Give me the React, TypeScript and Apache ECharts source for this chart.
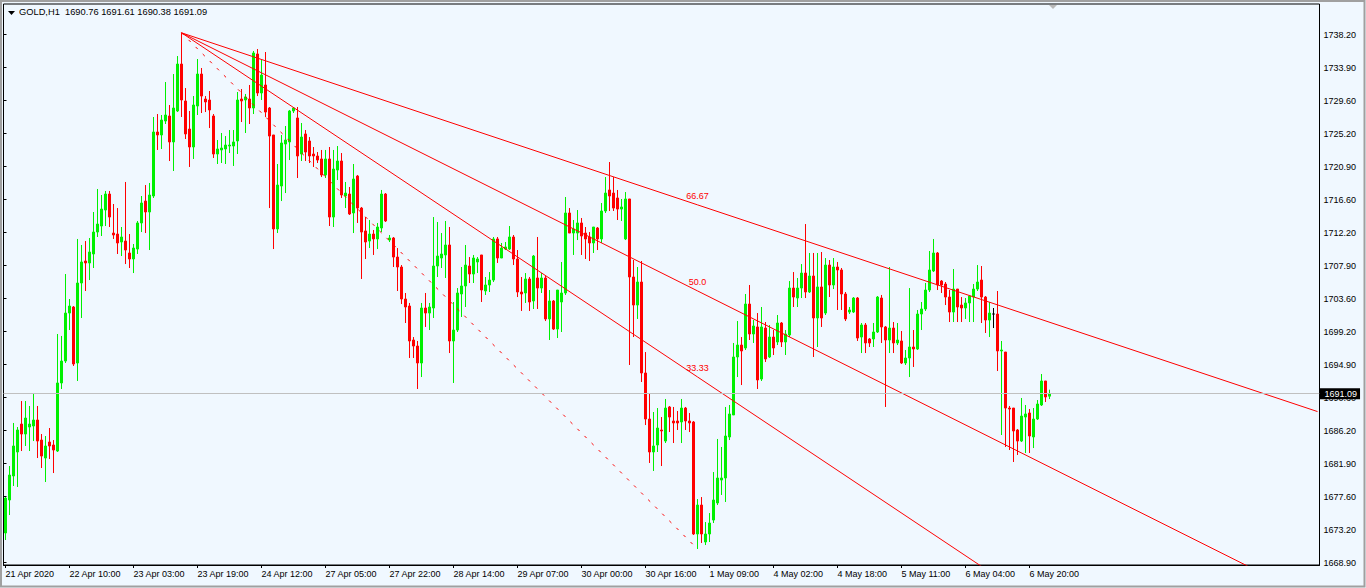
import React, { useEffect, useRef } from "react";
import * as echarts from "echarts";

const SYMBOL = "GOLD";
const TIMEFRAME = "H1";

const xTickLabels = [
  "21 Apr 2020", "22 Apr 10:00", "23 Apr 03:00", "23 Apr 19:00", "24 Apr 12:00",
  "27 Apr 05:00", "27 Apr 22:00", "28 Apr 14:00", "29 Apr 07:00", "30 Apr 00:00",
  "30 Apr 16:00", "1 May 09:00", "4 May 02:00", "4 May 18:00", "5 May 11:00",
  "6 May 04:00", "6 May 20:00",
];

const yTickLabels = [
  "1668.90", "1673.20", "1677.60", "1681.90", "1686.20", "1690.60", "1694.90",
  "1699.20", "1703.60", "1707.90", "1712.20", "1716.60", "1720.90", "1725.20",
  "1729.60", "1733.90", "1738.20",
];

const opens = [
  1672.80, 1677.13, 1680.28, 1683.43, 1687.10, 1685.79, 1686.71, 1686.84, 1687.63, 1685.00,
  1682.64, 1684.74, 1684.35, 1683.56, 1692.49, 1695.37, 1701.67, 1702.46, 1695.11, 1705.61,
  1708.50, 1708.24, 1709.42, 1712.30, 1713.09, 1715.19, 1717.29, 1712.17, 1712.04, 1710.99,
  1711.12, 1709.55, 1708.76, 1710.07, 1713.49, 1716.37, 1714.93, 1717.03, 1725.43, 1725.04,
  1726.87, 1727.53, 1724.12, 1728.19, 1734.35, 1729.50, 1725.82, 1723.46, 1728.84, 1733.04,
  1729.76, 1729.63, 1727.53, 1722.54, 1723.07, 1723.20, 1723.59, 1723.59, 1724.25, 1729.76,
  1729.63, 1729.76, 1728.58, 1735.67, 1730.55, 1731.60, 1728.58, 1725.04, 1712.70, 1718.34,
  1723.85, 1724.12, 1728.19, 1727.27, 1722.54, 1725.17, 1724.25, 1722.54, 1722.28, 1721.89,
  1719.79, 1721.89, 1714.27, 1720.44, 1721.62, 1717.03, 1717.29, 1714.80, 1719.65, 1715.45,
  1712.44, 1711.12, 1712.04, 1711.39, 1712.83, 1717.29, 1711.25, 1711.52, 1709.02, 1707.71,
  1703.51, 1702.59, 1698.13, 1697.34, 1695.11, 1702.33, 1701.67, 1702.33, 1707.84, 1708.89,
  1709.29, 1710.60, 1698.00, 1699.44, 1704.17, 1705.22, 1707.84, 1706.79, 1708.37, 1709.29,
  1704.56, 1705.35, 1706.00, 1711.39, 1708.89, 1710.07, 1710.07, 1711.65, 1708.76, 1704.43,
  1704.30, 1706.14, 1703.25, 1706.27, 1704.95, 1706.27, 1700.89, 1703.25, 1699.57, 1703.12,
  1704.30, 1714.80, 1712.17, 1712.17, 1713.49, 1712.17, 1711.65, 1710.86, 1712.83, 1711.39,
  1715.06, 1717.82, 1717.42, 1716.77, 1715.32, 1711.39, 1716.64, 1706.40, 1702.72, 1705.74,
  1693.80, 1687.76, 1683.43, 1684.35, 1686.32, 1684.87, 1689.34, 1687.50, 1687.50, 1687.37,
  1689.20, 1687.50, 1687.37, 1672.67, 1676.47, 1671.62, 1672.67, 1674.50, 1676.74, 1679.75,
  1680.02, 1685.40, 1688.29, 1695.90, 1697.47, 1697.08, 1702.85, 1698.92, 1699.84, 1693.01,
  1699.70, 1695.90, 1698.52, 1697.87, 1700.36, 1697.87, 1698.79, 1704.95, 1703.64, 1704.95,
  1706.92, 1704.43, 1706.53, 1701.02, 1705.09, 1701.67, 1707.97, 1705.35, 1707.71, 1707.32,
  1704.17, 1701.80, 1701.80, 1703.64, 1698.52, 1700.10, 1698.26, 1698.26, 1699.18, 1703.64,
  1699.84, 1698.13, 1699.70, 1697.74, 1698.00, 1695.11, 1695.77, 1697.21, 1696.95, 1701.54,
  1702.20, 1704.69, 1707.19, 1709.55, 1705.87, 1705.48, 1703.77, 1701.80, 1704.82, 1702.72,
  1702.33, 1702.99, 1703.77, 1704.82, 1706.00, 1703.77, 1700.75, 1701.54, 1701.54, 1696.69,
  1696.55, 1689.20, 1689.20, 1686.32, 1684.87, 1688.02, 1688.55, 1685.40, 1687.76, 1689.60,
  1692.75, 1690.76,
];

const closes = [
  1677.39, 1680.41, 1684.22, 1686.32, 1685.79, 1687.89, 1687.10, 1687.63, 1684.87, 1682.90,
  1684.22, 1684.22, 1683.69, 1692.49, 1695.37, 1701.67, 1702.59, 1694.98, 1705.61, 1708.37,
  1708.24, 1709.68, 1712.30, 1713.35, 1715.32, 1717.29, 1714.27, 1711.91, 1710.86, 1711.65,
  1709.94, 1708.76, 1710.20, 1713.49, 1716.11, 1714.93, 1717.16, 1725.43, 1725.04, 1727.00,
  1727.66, 1724.12, 1728.58, 1734.35, 1729.63, 1725.17, 1723.46, 1728.97, 1733.04, 1730.15,
  1729.37, 1728.32, 1722.54, 1723.20, 1723.33, 1723.72, 1723.72, 1724.12, 1729.63, 1729.50,
  1730.02, 1728.58, 1735.80, 1730.55, 1732.91, 1728.05, 1724.90, 1712.70, 1718.47, 1723.99,
  1724.38, 1728.19, 1728.58, 1722.28, 1724.77, 1722.80, 1722.28, 1722.28, 1721.75, 1719.79,
  1721.89, 1714.27, 1720.57, 1721.62, 1717.16, 1717.42, 1714.67, 1719.26, 1715.45, 1712.30,
  1710.99, 1712.04, 1711.39, 1712.96, 1717.29, 1713.75, 1711.52, 1709.02, 1707.71, 1703.51,
  1702.46, 1698.00, 1697.34, 1695.11, 1702.33, 1701.67, 1702.46, 1707.84, 1709.15, 1709.42,
  1710.60, 1698.00, 1699.44, 1704.30, 1705.22, 1707.97, 1706.79, 1708.89, 1708.76, 1704.69,
  1705.35, 1706.00, 1711.39, 1708.89, 1710.20, 1710.34, 1711.65, 1708.76, 1704.43, 1704.17,
  1706.14, 1703.12, 1709.15, 1704.95, 1706.27, 1700.89, 1703.25, 1699.57, 1704.69, 1704.30,
  1714.80, 1712.17, 1712.70, 1713.49, 1711.78, 1711.39, 1710.86, 1712.96, 1711.39, 1715.06,
  1717.42, 1717.03, 1715.45, 1715.32, 1715.59, 1716.64, 1706.40, 1702.72, 1705.74, 1693.80,
  1687.76, 1683.43, 1684.22, 1686.58, 1686.19, 1689.20, 1688.02, 1687.24, 1687.24, 1689.20,
  1687.50, 1687.24, 1672.67, 1676.47, 1672.67, 1672.67, 1674.11, 1677.13, 1680.02, 1680.02,
  1685.53, 1688.42, 1695.90, 1697.47, 1696.69, 1702.85, 1698.92, 1699.97, 1692.88, 1699.84,
  1695.64, 1698.52, 1697.08, 1700.36, 1697.87, 1698.92, 1704.95, 1703.77, 1704.95, 1706.92,
  1704.43, 1706.53, 1701.02, 1705.09, 1701.02, 1707.97, 1705.35, 1707.71, 1707.32, 1704.17,
  1700.89, 1702.07, 1703.64, 1698.39, 1700.10, 1697.74, 1697.74, 1699.18, 1703.77, 1699.84,
  1698.13, 1699.70, 1697.74, 1698.13, 1695.11, 1695.77, 1697.21, 1696.95, 1701.54, 1702.20,
  1704.69, 1707.32, 1709.55, 1705.35, 1705.35, 1703.77, 1701.80, 1704.82, 1702.46, 1702.33,
  1702.99, 1703.90, 1704.82, 1705.74, 1703.77, 1700.75, 1701.67, 1701.54, 1696.69, 1696.82,
  1689.20, 1689.07, 1686.19, 1684.87, 1688.15, 1688.42, 1685.53, 1687.76, 1689.73, 1692.75,
  1690.65, 1691.09,
];

const lows = [
  1671.88, 1675.16, 1678.97, 1678.84, 1683.56, 1684.22, 1683.56, 1684.87, 1682.64, 1681.33,
  1679.49, 1682.51, 1680.67, 1683.43, 1691.70, 1695.11, 1699.44, 1694.72, 1692.75, 1701.02,
  1704.56, 1706.00, 1707.58, 1711.65, 1711.78, 1713.09, 1712.96, 1711.39, 1709.42, 1709.15,
  1708.10, 1707.58, 1706.92, 1709.42, 1712.30, 1712.17, 1709.94, 1716.77, 1723.07, 1723.20,
  1726.48, 1721.62, 1720.31, 1728.05, 1727.40, 1724.51, 1720.84, 1721.89, 1727.66, 1727.92,
  1728.05, 1725.95, 1722.02, 1721.23, 1721.36, 1721.23, 1722.67, 1720.97, 1722.54, 1726.74,
  1725.30, 1726.48, 1727.79, 1730.15, 1729.63, 1727.40, 1715.45, 1710.07, 1712.17, 1716.37,
  1717.42, 1721.75, 1727.92, 1719.39, 1721.62, 1721.62, 1721.36, 1720.84, 1721.36, 1719.52,
  1719.39, 1713.09, 1712.96, 1719.13, 1716.77, 1715.45, 1714.54, 1712.17, 1713.49, 1706.14,
  1708.76, 1710.20, 1709.29, 1710.07, 1712.30, 1713.62, 1710.99, 1707.71, 1704.56, 1702.85,
  1700.36, 1695.77, 1695.77, 1691.70, 1693.27, 1699.84, 1699.44, 1701.02, 1706.40, 1707.58,
  1706.27, 1696.42, 1692.49, 1699.18, 1701.15, 1702.46, 1705.61, 1705.61, 1706.92, 1703.12,
  1704.04, 1704.43, 1705.74, 1708.24, 1708.89, 1709.94, 1709.94, 1707.97, 1703.77, 1701.94,
  1702.99, 1701.94, 1702.20, 1702.20, 1704.30, 1700.62, 1698.13, 1699.44, 1698.39, 1699.18,
  1704.04, 1712.17, 1709.29, 1711.25, 1709.29, 1708.76, 1708.50, 1709.55, 1709.94, 1710.86,
  1714.80, 1715.06, 1715.06, 1713.88, 1713.75, 1711.25, 1694.85, 1698.52, 1700.89, 1692.62,
  1686.97, 1681.99, 1680.94, 1683.43, 1681.59, 1684.61, 1686.05, 1684.61, 1686.32, 1684.61,
  1686.32, 1686.05, 1672.54, 1670.70, 1671.49, 1671.22, 1671.62, 1674.11, 1676.47, 1677.79,
  1676.87, 1685.00, 1688.29, 1693.27, 1692.22, 1696.82, 1698.13, 1697.74, 1691.70, 1692.75,
  1695.24, 1695.77, 1696.16, 1697.47, 1697.21, 1696.16, 1698.52, 1702.46, 1702.46, 1703.64,
  1703.64, 1704.30, 1695.90, 1697.21, 1699.84, 1701.41, 1703.77, 1704.82, 1702.07, 1702.07,
  1700.62, 1701.54, 1701.67, 1698.00, 1696.42, 1696.42, 1697.21, 1697.21, 1699.05, 1697.74,
  1689.34, 1696.42, 1696.42, 1697.47, 1694.98, 1694.85, 1693.27, 1694.59, 1696.82, 1699.44,
  1701.94, 1704.43, 1707.05, 1704.69, 1704.30, 1702.72, 1700.49, 1700.49, 1700.49, 1700.49,
  1700.89, 1700.49, 1700.49, 1704.56, 1700.36, 1699.05, 1698.52, 1699.70, 1694.06, 1685.66,
  1684.09, 1683.69, 1682.12, 1683.04, 1684.74, 1683.30, 1683.30, 1683.95, 1687.63, 1689.47,
  1689.99, 1690.38,
];

const highs = [
  1677.52, 1681.59, 1687.24, 1686.71, 1690.12, 1690.12, 1689.47, 1691.04, 1689.47, 1685.79,
  1685.53, 1686.58, 1685.00, 1698.92, 1698.66, 1706.79, 1703.51, 1702.59, 1711.39, 1710.60,
  1711.12, 1711.52, 1714.93, 1717.95, 1717.16, 1717.69, 1717.69, 1715.98, 1715.45, 1712.96,
  1718.87, 1712.04, 1710.73, 1713.75, 1717.03, 1718.47, 1718.74, 1727.40, 1727.79, 1727.66,
  1731.99, 1728.97, 1733.04, 1735.40, 1738.45, 1731.20, 1728.19, 1730.15, 1735.01, 1733.83,
  1730.15, 1730.81, 1727.79, 1724.38, 1725.30, 1724.90, 1725.69, 1725.69, 1730.68, 1731.07,
  1730.42, 1731.60, 1736.06, 1736.32, 1734.88, 1735.93, 1728.71, 1725.04, 1721.23, 1725.04,
  1726.22, 1728.32, 1728.71, 1728.71, 1726.61, 1725.69, 1724.77, 1723.46, 1722.80, 1723.07,
  1723.07, 1723.46, 1723.07, 1723.59, 1722.67, 1718.87, 1718.21, 1721.23, 1719.79, 1715.59,
  1714.27, 1713.88, 1712.57, 1713.49, 1717.82, 1717.42, 1711.91, 1711.65, 1710.20, 1707.97,
  1704.30, 1702.99, 1698.52, 1698.00, 1702.99, 1704.30, 1702.99, 1714.27, 1713.62, 1712.17,
  1713.75, 1712.96, 1703.12, 1704.95, 1707.71, 1710.60, 1709.02, 1709.29, 1709.02, 1709.29,
  1706.40, 1707.05, 1711.65, 1711.65, 1710.86, 1710.99, 1713.09, 1711.91, 1709.94, 1706.40,
  1706.92, 1706.40, 1709.29, 1711.65, 1706.92, 1706.53, 1704.69, 1703.38, 1704.69, 1708.37,
  1716.90, 1715.45, 1713.88, 1715.19, 1714.14, 1712.96, 1712.30, 1712.96, 1712.96, 1716.11,
  1719.52, 1721.49, 1719.52, 1717.82, 1716.64, 1717.55, 1716.64, 1708.63, 1707.71, 1708.50,
  1696.55, 1691.17, 1688.68, 1689.20, 1688.02, 1690.39, 1689.47, 1689.34, 1688.81, 1690.39,
  1689.34, 1688.55, 1687.50, 1677.26, 1677.52, 1674.24, 1675.42, 1680.80, 1685.14, 1684.09,
  1689.34, 1689.60, 1697.74, 1700.62, 1698.52, 1704.17, 1705.35, 1700.75, 1701.67, 1702.46,
  1700.49, 1700.10, 1699.44, 1701.41, 1700.49, 1699.44, 1705.87, 1707.05, 1706.27, 1708.10,
  1713.35, 1709.55, 1709.55, 1709.55, 1709.68, 1708.89, 1708.63, 1708.89, 1708.37, 1707.58,
  1704.43, 1702.46, 1703.77, 1703.77, 1700.36, 1700.36, 1698.39, 1700.36, 1703.90, 1704.04,
  1699.97, 1707.71, 1700.49, 1700.36, 1699.31, 1696.82, 1704.95, 1699.44, 1702.07, 1703.12,
  1705.61, 1709.81, 1711.39, 1709.68, 1706.00, 1705.74, 1704.69, 1707.45, 1704.82, 1703.77,
  1703.64, 1704.04, 1705.48, 1707.97, 1707.84, 1703.90, 1703.12, 1702.33, 1704.56, 1698.00,
  1696.55, 1689.47, 1689.20, 1686.45, 1690.52, 1689.60, 1689.07, 1689.20, 1690.25, 1693.67,
  1692.75, 1691.61,
];

// Fibonacci fan anchors (bar index, price) and its levels
const fanStartBar = 44;
const fanStartPrice = 1738.45;
const fanEndBar = 173;
const fanEndPrice = 1670.7;
const fanLevels = [66.67, 50.0, 33.33];
const fanLevelLabels = ["66.67", "50.0", "33.33"];

const SLOT_COUNT = 329; // visible bar slots incl. empty space on the right
const PRICE_MIN = 1668.6;
const PRICE_MAX = 1742.23;

const FONT = '"Liberation Sans", Arial, sans-serif';
const BULL = "#00F000";
const BEAR = "#FF0000";
const BG = "#F0F8FF";

export default function App() {
  const ref = useRef<HTMLDivElement>(null);

  useEffect(() => {
    document.body.style.margin = "0";
    const chart = echarts.init(ref.current as HTMLDivElement, undefined, { renderer: "svg" });

    const categories = Array.from({ length: SLOT_COUNT }, (_, i) => String(i));
    const candles = opens.map((o, i) => [o, closes[i], lows[i], highs[i]]);
    const last = opens.length - 1;
    const lastClose = closes[last];
    const header =
      `${SYMBOL},${TIMEFRAME}\u00a0\u00a0${opens[last].toFixed(2)} ${highs[last].toFixed(2)} ` +
      `${lows[last].toFixed(2)} ${lastClose.toFixed(2)}`;

    const lastSlot = SLOT_COUNT - 1;
    const drop = fanStartPrice - fanEndPrice;
    const span = fanEndBar - fanStartBar;
    const fanSeries = fanLevels.map((lvl, k) => {
      const atEnd = fanEndPrice + (lvl / 100) * drop;
      const slope = (atEnd - fanStartPrice) / span;
      const atRight = fanStartPrice + slope * (lastSlot - fanStartBar);
      return {
        type: "line",
        xAxisIndex: 0,
        yAxisIndex: 0,
        silent: true,
        clip: true,
        symbol: "circle",
        symbolSize: 0,
        showSymbol: true,
        showAllSymbol: true,
        lineStyle: { color: "#FF0000", width: 1 },
        itemStyle: { color: "#FF0000" },
        label: { show: false },
        emphasis: { disabled: true },
        data: [
          [fanStartBar, fanStartPrice],
          {
            value: [fanEndBar, atEnd],
            label: {
              show: true,
              position: "top",
              distance: 4,
              formatter: fanLevelLabels[k],
              color: "#FF0000",
              fontSize: 9,
              fontFamily: FONT,
            },
          },
          [lastSlot, atRight],
        ],
        z: 3,
      };
    });

    const tickShown = (idx: number) => idx % 16 === 0 && idx / 16 < xTickLabels.length;

    const option: any = {
      animation: false,
      backgroundColor: BG,
      textStyle: { fontFamily: FONT },
      title: {
        text: header,
        left: 19,
        top: 7,
        padding: 0,
        textStyle: { fontSize: 9.3, fontWeight: "normal", color: "#000", fontFamily: FONT },
      },
      grid: [
        {
          left: 3.5,
          top: 4,
          width: SLOT_COUNT * 4,
          height: 561,
          show: true,
          borderColor: "#000",
          borderWidth: 1,
          backgroundColor: BG,
        },
        { left: 3.5, top: 34.7, width: SLOT_COUNT * 4, height: 528, show: false },
      ],
      xAxis: [
        {
          type: "category",
          gridIndex: 0,
          data: categories,
          boundaryGap: true,
          axisLine: { show: true, lineStyle: { color: "#000", width: 1 } },
          axisTick: {
            show: true,
            alignWithLabel: true,
            interval: (idx: number) => tickShown(idx),
            length: 3,
            lineStyle: { color: "#000" },
          },
          axisLabel: {
            show: true,
            interval: (idx: number) => tickShown(idx),
            formatter: (_v: string, idx: number) => (idx % 16 === 0 ? xTickLabels[idx / 16] ?? "" : ""),
            align: "left",
            margin: 4,
            fontSize: 9,
            color: "#000",
            fontFamily: FONT,
          },
          splitLine: { show: false },
        },
        { type: "value", gridIndex: 1, show: false, min: 0, max: 1 },
      ],
      yAxis: [
        {
          type: "value",
          gridIndex: 0,
          min: PRICE_MIN,
          max: PRICE_MAX,
          show: false,
          splitLine: { show: false },
        },
        {
          type: "value",
          gridIndex: 1,
          position: "right",
          min: 0,
          max: yTickLabels.length - 1,
          interval: 1,
          axisLine: { show: false },
          axisTick: { show: true, length: 3, lineStyle: { color: "#000" } },
          axisLabel: {
            formatter: (v: number) => yTickLabels[Math.round(v)] ?? "",
            margin: 4,
            fontSize: 9,
            color: "#000",
            fontFamily: FONT,
          },
          splitLine: { show: false },
        },
      ],
      graphic: [
        {
          type: "rect",
          silent: true,
          z: 100,
          shape: { x: 1, y: 1, width: 1363.5, height: 585.5 },
          style: { fill: "none", stroke: "#A0A0A0", lineWidth: 2 },
        },
        {
          type: "polygon",
          silent: true,
          z: 100,
          shape: { points: [[8, 11], [15, 11], [11.5, 15]] },
          style: { fill: "#000" },
        },
        {
          type: "polygon",
          silent: true,
          z: 100,
          shape: { points: [[1049, 5], [1057, 5], [1053, 9]] },
          style: { fill: "#B8B8B8" },
        },
      ],
      series: [
        {
          type: "candlestick",
          xAxisIndex: 0,
          yAxisIndex: 0,
          data: candles,
          barWidth: 2,
          silent: true,
          itemStyle: {
            color: BULL,
            color0: BEAR,
            borderColor: BULL,
            borderColor0: BEAR,
            borderColorDoji: "#000",
            borderWidth: 1,
          },
          emphasis: { disabled: true },
          markLine: {
            silent: true,
            symbol: ["none", "none"],
            lineStyle: { color: "#C0C0C0", width: 1, type: "solid" },
            emphasis: { disabled: true },
            label: {
              show: true,
              position: "end",
              distance: 0,
              formatter: lastClose.toFixed(2),
              color: "#FFFFFF",
              backgroundColor: "#000000",
              padding: [1, 3, 1, 5],
              fontSize: 9,
              fontFamily: FONT,
            },
            data: [{ yAxis: lastClose }],
          },
          z: 2,
        },
        {
          type: "line",
          xAxisIndex: 0,
          yAxisIndex: 0,
          silent: true,
          symbol: "none",
          lineStyle: { color: "#FF0000", width: 1, type: [3, 7] },
          emphasis: { disabled: true },
          data: [
            [fanStartBar, fanStartPrice],
            [fanEndBar, fanEndPrice],
          ],
          z: 3,
        },
        ...fanSeries,
      ],
    };

    chart.setOption(option);
    return () => chart.dispose();
  }, []);

  return <div ref={ref} style={{ width: 1366, height: 588 }} />;
}
